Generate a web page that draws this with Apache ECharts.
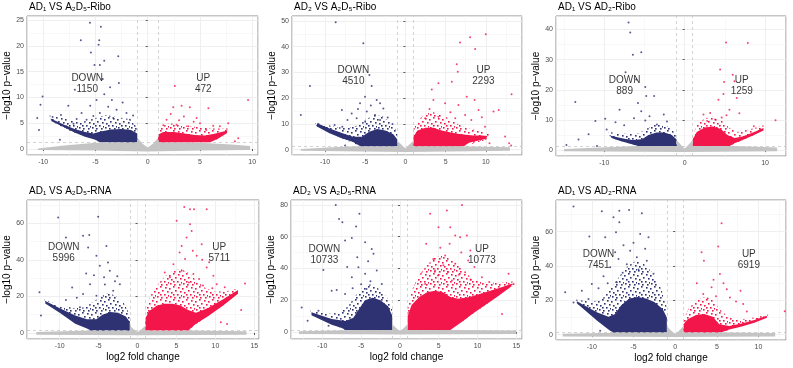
<!DOCTYPE html>
<html>
<head>
<meta charset="utf-8">
<script src="https://cdn.jsdelivr.net/npm/echarts@6/dist/echarts.min.js"></script>
<style>
html, body { margin: 0; padding: 0; background: #fff; }
#volcano { width: 793px; height: 368px; }
</style>
</head>
<body>
<div id="volcano"></div>
<script>
// panel titles and DEG counts
var panelTitles = ['AD₁ VS A₂D₅-Ribo', 'AD₂ VS A₂D₅-Ribo', 'AD₁ VS AD₂-Ribo',
                   'AD₁ VS A₂D₅-RNA', 'AD₂ VS A₂D₅-RNA', 'AD₁ VS AD₂-RNA'];
var downCounts = [1150, 4510, 889, 5996, 10733, 7451];
var upCounts = [472, 2293, 1259, 5711, 10773, 6919];
var fcCut = 1;
var pCut = 1.301;

// outlines of the point masses (log2FC, -log10 p): ns band, solid core, sparser fringe
var nsCore1 = [[-10.5,0.1],[-8,0.7],[-5,1.2],[-2,1.3],[-1,2.2],[-0.5,1.0],[0,0.3],[0.5,1.0],[1,2.2],[2,1.3],[5,1.2],[8,0.9],[9.8,0.6],[9.8,-0.2],[5,-0.3],[0,-0.5],[-5,-0.3],[-10.5,-0.2]];
var downCore1 = [[-1,1.3],[-1,3.0],[-1.6,3.7],[-2.5,3.9],[-3.5,3.8],[-4.5,3.4],[-5.2,3.0],[-6,3.3],[-7,3.9],[-8,4.7],[-9.3,5.9],[-9.2,5.4],[-8,4.2],[-7,3.2],[-6,2.4],[-5,1.8],[-4.6,1.3]];
var downFringe1 = [[-1,1.3],[-1,4.2],[-1.8,5.8],[-3,6.2],[-4,6.6],[-5,6.0],[-6,5.4],[-7,5.4],[-8.2,6.0],[-9.4,6.5],[-9.3,5.5],[-8,4.1],[-7,3.1],[-6,2.3],[-5,1.7],[-4.6,1.3]];
var upCore1 = [[1,1.3],[1,2.8],[1.5,3.3],[2.5,3.3],[3.5,3.0],[4.5,2.7],[5.5,2.6],[6.5,3.0],[7.6,3.6],[7.6,3.1],[6.8,2.1],[6,1.3]];
var upFringe1 = [[1,1.3],[1,4],[2,5],[3,4.8],[4,4.4],[5,4.2],[6,4.0],[7,4.0],[7.8,4.0],[7.7,3.0],[6.8,2.0],[6,1.3]];

var nsCore2 = [[-13,0.3],[-9,1],[-6,1.3],[-1,1.3],[-1,3.5],[-0.5,2],[0,0.5],[0.5,2],[1,3.5],[1,1.3],[6,1.3],[10,1.2],[13,1],[13,-0.4],[0,-0.9],[-13,-0.4]];
var downCore2 = [[-1,1.3],[-1,4],[-1.5,6],[-2.5,7.5],[-3.5,8],[-4.5,7],[-5.4,5],[-6.5,5],[-8,6.6],[-9.5,8.3],[-11,10.3],[-11,9],[-9.5,6.5],[-8,4.5],[-6.5,3],[-5.6,1.3]];
var downFringe2 = [[-1,1.3],[-1,7],[-1.8,10.5],[-2.8,13],[-3.8,13.5],[-4.8,12],[-5.8,9.5],[-7,8.5],[-8.5,8.7],[-10,9.8],[-11.3,10.8],[-11,9],[-8,4.5],[-5.6,1.3]];
var upCore2 = [[1,1.3],[1,5],[1.5,7.5],[2.5,8.5],[3.5,8.5],[4.5,7.5],[5.5,6.8],[6.5,6.2],[7.5,5.8],[8.5,5.5],[9.5,5.5],[10.2,5.3],[10,4.2],[9,3.5],[8,2.8],[7.2,1.3]];
var upFringe2 = [[1,1.3],[1,8],[1.6,11.5],[2.5,14],[3.5,14.5],[4.5,13.5],[5.5,12],[6.5,10],[7.5,8.5],[8.5,7.8],[9.5,7.2],[10.5,6.5],[10.2,4],[7.2,1.3]];

var nsCore3 = [[-15,0.3],[-9,1],[-6,1.3],[-1,1.3],[-1,3.2],[-0.5,1.8],[0,0.4],[0.5,1.8],[1,3.2],[1,1.3],[6,1.3],[9,1.1],[11.5,0.8],[11.5,-0.4],[0,-0.7],[-15,-0.4]];
var downCore3 = [[-1,1.3],[-1,3.5],[-1.6,5],[-2.5,5.8],[-3.5,5.8],[-4.5,5],[-5.3,3.6],[-6.5,3.3],[-7.5,3.7],[-8.5,4.3],[-9.2,4.7],[-9.1,4.0],[-8,3.0],[-7,2.2],[-6,1.5],[-5.7,1.3]];
var downFringe3 = [[-1,1.3],[-1,5],[-1.8,7.5],[-2.8,8.5],[-3.8,8.3],[-4.8,7],[-5.8,5.5],[-7,5.3],[-8.3,5.6],[-9.5,6],[-9.2,4],[-5.7,1.3]];
var upCore3 = [[1,1.3],[1,3.5],[1.5,6],[2.5,7.5],[3.5,7.8],[4.5,7],[5.3,5],[6.2,4],[7.2,4.5],[8.5,5.8],[9.8,7.3],[9.8,6.5],[8.5,4.8],[7.2,3.3],[6.2,2.2],[5.6,1.3]];
var upFringe3 = [[1,1.3],[1,5],[1.6,8.5],[2.5,10.5],[3.5,11],[4.5,10],[5.5,7.5],[6.5,6],[8,6.8],[9.9,8.2],[9.8,6.5],[5.6,1.3]];

var nsCore4 = [[-13,0.5],[-6,1.3],[-1,1.3],[-1,4],[-0.5,2],[0,0.5],[0.5,2],[1,4],[1,1.3],[7,1.3],[14,1],[14,-1.0],[0,-1.3],[-13,-1.0]];
var downCore4 = [[-1,1.3],[-1,6],[-1.5,9],[-2.5,11],[-3.5,11.5],[-4.5,10],[-5.3,7.5],[-6.5,7.5],[-8,9.5],[-10,13.5],[-11.9,17.6],[-11.8,16],[-10,11],[-8,5],[-6.5,2.5],[-6,1.3]];
var downFringe4 = [[-1,1.3],[-1,10],[-1.7,16],[-2.7,20],[-3.7,22],[-4.7,20],[-5.7,17],[-6.7,14],[-8,13.5],[-10,15],[-12,18.5],[-11.8,16],[-6,1.3]];
var upCore4 = [[1,1.3],[1,8],[1.5,12],[2.5,15],[3.5,16],[4.5,16],[5.5,15],[6.5,12.5],[7.5,11],[9,13.5],[11,18.5],[12.9,23.5],[12.9,21.5],[11,15],[9,9],[7.5,5],[6.8,2.5],[6.5,1.3]];
var upFringe4 = [[1,1.3],[1,12],[1.6,20],[2.5,26],[3.5,31],[4.5,34],[5.5,35],[6.5,33],[7.5,29],[8.5,25],[10,22.5],[11.5,23],[13,24.5],[12.9,21.5],[6.5,1.3]];

var nsCore5 = [[-13,0.5],[-6,1.3],[-1,1.3],[-1,5],[-0.5,2.5],[0,0.5],[0.5,2.5],[1,5],[1,1.3],[7,1.3],[15,1],[15,-1.2],[0,-1.6],[-13,-1.2]];
var downCore5 = [[-1,1.3],[-1,10],[-1.5,16],[-2.5,20],[-3.5,21.5],[-4.5,20],[-5.2,15],[-6,9],[-7,7],[-8.8,8.2],[-11.4,12.4],[-11.4,10.6],[-8.8,4.5],[-7.5,2.5],[-7,1.3]];
var downFringe5 = [[-1,1.3],[-1,14],[-1.7,22],[-2.7,27],[-3.7,30],[-4.7,29],[-5.7,23],[-6.7,16],[-8,12],[-9.5,11.5],[-11.6,13.5],[-11.4,10.6],[-7,1.3]];
var upCore5 = [[1,1.3],[1,10],[1.5,17],[2.5,22],[3.5,25],[4.5,26],[5.5,25],[6.5,22],[7.5,21],[9,22],[11,25],[13,28],[14.5,30.5],[14.3,28.5],[12.5,22],[11,17],[9.5,12],[8,6.5],[7,3],[6.5,1.3]];
var upFringe5 = [[1,1.3],[1,16],[1.6,27],[2.5,36],[3.5,42],[4.5,47],[5.5,48],[6.5,46],[7.5,42],[8.5,37],[9.5,33],[11,31],[13,31],[14.8,32],[14.3,28.5],[6.5,1.3]];

var nsCore6 = [[-13.5,0.5],[-6,1.3],[-1,1.3],[-1,5],[-0.5,2.5],[0,0.5],[0.5,2.5],[1,5],[1,1.3],[7,1.3],[12,1],[12,-1.1],[0,-1.4],[-13.5,-1.1]];
var downCore6 = [[-1,1.3],[-1,10],[-1.5,15],[-2.5,19],[-3.5,21],[-4.5,22],[-5.5,21],[-6.5,17],[-7.2,12],[-8,10.5],[-9.4,13],[-11.8,19.4],[-11.8,18.3],[-9.4,8.2],[-8.4,4.5],[-7.8,2.3],[-7.4,1.3]];
var downFringe6 = [[-1,1.3],[-1,16],[-1.7,27],[-2.7,36],[-3.7,41],[-4.7,43],[-5.7,40],[-6.7,34],[-7.7,27],[-8.7,21],[-10,19],[-12,20.5],[-11.8,18.3],[-7.4,1.3]];
var upCore6 = [[1,1.3],[1,6],[1.5,9],[2.5,11.5],[3.5,12],[4.5,10.5],[5.3,6],[6.5,5],[8,6.5],[9.5,8.5],[11,11],[11,9.8],[9.5,7],[8,4.8],[6.5,3],[5.5,1.3]];
var upFringe6 = [[1,1.3],[1,9],[1.6,15],[2.5,20],[3.5,22],[4.5,20],[5.5,14],[6.5,10],[8,9],[9.5,10],[11.2,11.8],[11,9.8],[5.5,1.3]];

// scattered genes outside the dense masses
var downPts1 = [[-5.53,24.5],[-4.48,23.7],[-6.4,21.1],[-4.64,21.1],[-4.7,20.2],[-5.44,18.7],[-2.82,18.0],[-5.09,16.3],[-4.58,16.3],[-4.16,17.1],[-2.76,12.8],[-6.97,11.5],[-10.06,10.2],[-10.26,8.6],[-7.6,8.4],[-10.57,6.0],[-9.1,6.2],[-10.4,3.7],[-4.16,10.6],[-3.43,9.5],[-4.9,9.5],[-5.5,8.4],[-3.78,8.2],[-2.98,7.6],[-2.03,7.0],[-6.33,7.0],[-4.58,7.0],[-5.85,5.7],[-3.3,6.0],[-1.7,5.7],[-7.1,4.9],[-7.77,4.4],[-8.4,1.8],[-3.6,12.0],[-4.3,13.6],[-2.4,9.0],[-1.4,6.5],[-5.2,6.4],[-6.8,5.8],[-8.3,6.6]];
var upPts1 = [[2.6,12.2],[2.44,8.1],[3.24,8.4],[4.03,8.1],[3.46,6.3],[5.8,7.9],[9.6,9.5],[1.8,5.7],[4.67,6.0],[5.0,5.0],[7.7,5.0],[6.9,4.4],[8.66,2.1],[8.34,1.5],[2.76,4.7],[3.88,4.4],[6.27,4.5],[5.6,3.7],[2.2,6.8],[3.0,5.6],[1.5,4.6],[4.4,5.3]];

var downPts2 = [[-8.67,49.5],[-5.23,41.3],[-11.87,24.7],[-4.48,29.0],[-13,13.5],[-4.19,24.7],[-5.02,20.6],[-3.57,19.3],[-3.15,18],[-5.64,18],[-7.9,15.4],[-6.68,14.1],[-10.8,10],[-9.88,8.3],[-7.84,8.9],[-7.5,1.6],[-4.8,14.8],[-3.78,13.5],[-2.74,16],[-6.06,12.2],[-5,10.9],[-3.15,11.5],[-2.2,12.5],[-1.6,10],[-4.3,17.2],[-5.9,15.8],[-7.2,11.5],[-8.8,9.6]];
var upPts2 = [[10,44.8],[6.8,41.6],[8.05,43.7],[8.67,39.1],[6.39,33.2],[6.51,30.3],[5.77,26.4],[4.11,25.8],[13.2,21.5],[11.6,15.4],[10.95,14.8],[8.6,19.3],[7.63,20.6],[3.28,23.4],[9.1,15.4],[12.4,5.1],[12.9,2.5],[13.15,1.6],[10.46,2.5],[9.9,8.9],[3.49,19.3],[4.94,18],[6.6,17.4],[7.43,13.5],[4.1,12.8],[2.45,12.2],[5.6,14.5],[3.0,15.8],[8.2,11.5],[6.2,12.2],[9.5,12.6]];

var downPts3 = [[-6.98,42.3],[-6.77,39],[-6.44,31.6],[-5.4,32.5],[-7.35,25.8],[-6.02,23.4],[-4.9,20.9],[-13.6,15.9],[-8.1,13.4],[-5.8,15.6],[-4.78,17.9],[-3.8,17.9],[-5.4,12.9],[-4.37,11.2],[-9.88,10.4],[-11.1,9.6],[-9.7,6.8],[-11.95,5.2],[-14.7,1.65],[-13.2,3.5],[-10.9,1.3],[-7.52,8.2],[-3.46,8.5],[-6.3,10.5],[-2.6,11.8],[-8.6,9.2],[-4.9,9.8],[-2.2,9.5]];
var upPts3 = [[5.15,35.7],[7.85,35.5],[4.41,26.7],[5.98,25],[6.19,22.8],[4.82,18.6],[4.2,16.7],[6.48,17.3],[5.57,13.4],[11.3,9.9],[3.17,12.3],[2.34,11.8],[3.79,10.1],[8.6,7.9],[9.4,6.8],[4.9,22.6],[5.2,11.5],[6.8,12.2],[2.8,9.6],[4.6,10.8]];

var downPts4 = [[-10.2,63.1],[-5.06,63.5],[-9.2,52.2],[-6.2,53.6],[-7,53.1],[-4,47.6],[-6.35,46.7],[-5.28,42.2],[-4.85,36.7],[-3.56,34],[-4.3,30.4],[-6.1,26.7],[-8.4,24.9],[-12.6,22.2],[-7,21.3],[-5.28,20.4],[-3.13,23.1],[-12.4,9.5],[-2.27,26.7],[-7.4,14],[-9.57,11.3],[-3.8,38.5],[-2.6,31],[-5.6,31.5],[-4.2,26.5],[-6.6,32.5],[-2.9,28.3],[-7.8,19.2],[-9.2,18]];
var upPts4 = [[6,68.9],[6.74,67.6],[7.25,67.6],[8.88,67.6],[5.02,61.3],[6.74,59.5],[6.95,55.8],[6.3,52.2],[8.24,48.5],[5.67,47.6],[7.6,42.2],[13.8,27.1],[13.3,12.5],[11.5,4.9],[10.7,5.8],[9.74,31.3],[8.88,35.8],[4.6,37.6],[5.67,34],[7.17,32.2],[4.16,30.4],[10.17,26.7],[7.1,45],[6.1,40.5],[8.3,40],[9.2,38.6],[5.4,44],[3.5,33],[7.9,29.5],[9.6,24.5],[11.2,25],[6.6,27.6],[8.4,26]];

var downPts5 = [[-8.27,80],[-7.85,71.2],[-7.42,69.1],[-5.22,74.4],[-5.65,66.4],[-6.2,59.2],[-4.49,56.5],[-7.07,57.6],[-3.63,52.3],[-3.41,49.2],[-9.87,39.1],[-5.35,40.8],[-4.49,36.6],[-8.8,26],[-8.15,26.5],[-7.07,24],[-12.66,15.5],[-10.5,13.4],[-11.9,7.1],[-9.2,4],[-6.2,34.5],[-2.99,38.7],[-2.34,30.3],[-5.5,47],[-4.1,44.5],[-6.8,41],[-3.8,32],[-5,30],[-6.1,27.5],[-4.3,27]];
var upPts5 = [[8,80],[6.05,76.5],[3.89,74.4],[4.97,66],[6.48,66],[7.12,60.7],[7.76,59.7],[8.62,60.7],[9.07,51.3],[3.38,55.5],[5.83,48.1],[7.12,42.9],[10.56,34.5],[14,36.6],[12.3,26],[14.65,30.3],[13.15,11.3],[8.4,37.6],[4.54,38.7],[6.7,32.4],[3.25,30.3],[5.2,53],[4.3,46],[6.4,55.6],[7.9,50],[8.8,45],[9.6,41],[5.6,42],[4.9,35.5],[7.6,36],[9.1,33],[11.5,31.5],[6.2,37.8]];

var downPts6 = [[-12.2,74.6],[-8.8,71.8],[-6.7,72.2],[-5.53,72.6],[-4,70.7],[-7.4,68.3],[-6.7,65.4],[-10.3,57.1],[-8.4,56.7],[-7.1,59.6],[-4.2,58.6],[-3.2,56.7],[-5.4,48.9],[-10,29.5],[-13.2,24.7],[-12.2,18.8],[-11.2,25.6],[-10.4,20.8],[-9,2.3],[-7.8,39.2],[-7,30.5],[-6.2,52],[-5,53.5],[-3.6,50],[-4.6,45],[-6.8,44],[-5.8,41],[-3.4,43],[-7.2,48],[-8.6,34],[-9.2,27],[-6.3,36],[-4.4,38],[-2.6,35.5],[-8.1,30]];
var upPts6 = [[5.57,64.9],[5.17,51.3],[3.17,48],[3.45,43.1],[5.37,35.3],[7.84,25.6],[13.15,13.6],[10.64,10.1],[8.16,17.9],[6.57,21.7],[4.37,27.6],[3.37,23.7],[9.9,9.1],[4.6,32],[5.8,30],[2.6,30],[6.2,26.4],[7.3,19.3],[3.9,21],[4.9,22.4],[8.6,13.5]];

var nsCores = [nsCore1, nsCore2, nsCore3, nsCore4, nsCore5, nsCore6];
var downCores = [downCore1, downCore2, downCore3, downCore4, downCore5, downCore6];
var downFringes = [downFringe1, downFringe2, downFringe3, downFringe4, downFringe5, downFringe6];
var upCores = [upCore1, upCore2, upCore3, upCore4, upCore5, upCore6];
var upFringes = [upFringe1, upFringe2, upFringe3, upFringe4, upFringe5, upFringe6];
var downPts = [downPts1, downPts2, downPts3, downPts4, downPts5, downPts6];
var upPts = [upPts1, upPts2, upPts3, upPts4, upPts5, upPts6];

// layout: grid boxes, axis extents, where the DOWN/UP counts sit
var boxes = [
    {left: 27, top: 16, width: 231, height: 139},
    {left: 292, top: 16, width: 230, height: 139},
    {left: 556, top: 16, width: 230, height: 140},
    {left: 27, top: 200, width: 232, height: 139},
    {left: 291, top: 200, width: 231, height: 139},
    {left: 556, top: 200, width: 230, height: 140}
];
var xExt = [[-11.55, 10.55], [-14.1, 14.5], [-16, 12.6], [-14.2, 15.6], [-14.04, 15.73], [-14.3, 13.3]];
var yExt = [[-1.16, 25.8], [-2.05, 51.9], [-2, 44.5], [-3.3, 72.7], [-4.4, 83.1], [-3.1, 78.4]];
var xSplit = [5, 5, 3, 5, 5, 5];
var ySplit = [5, 5, 5, 4, 4, 4];
var downLabelAt = [[-5.79, 12.6], [-6.47, 28.6], [-7.47, 21.4], [-9.48, 44], [-9.74, 48.7], [-9.2, 43.5]];
var upLabelAt = [[5.31, 12.6], [9.7, 28.6], [7.1, 21.4], [10.5, 44], [10.57, 48.7], [8.84, 43.5]];

var colNs = '#c4c4c4', colDown = '#2e3172', colUp = '#f2164a';
var font = 'Liberation Sans, Arial, sans-serif';

// stipple texture for the sparse fringe of each cloud (13px tile)
var stippleDots = [[0,2],[4,0],[9,1],[11,5],[2,6],[6,4],[8,8],[1,10],[5,11],[10,11],[4,8],[12,9]];
function stipple(color) {
    var c = document.createElement('canvas');
    c.width = 13; c.height = 13;
    var g = c.getContext('2d');
    g.fillStyle = color;
    stippleDots.forEach(function (d) { g.fillRect(d[0], d[1], 1.6, 1.6); });
    return {image: c, repeat: 'repeat'};
}

var mychart = echarts.init(document.getElementById('volcano'));

function cloud(i, pts, fill) {
    return {
        type: 'custom', xAxisIndex: i, yAxisIndex: i, silent: true, clip: true,
        data: pts,
        renderItem: function (params, api) {
            if (params.dataIndex !== 0) return;
            return {
                type: 'polygon',
                shape: {points: pts.map(function (p) { return api.coord(p); })},
                style: {fill: fill}
            };
        }
    };
}

var grid = [], xAxis = [], yAxis = [], title = [], series = [];
for (var i = 0; i < 6; i++) {
    var b = boxes[i];
    grid.push({left: b.left, top: b.top, width: b.width, height: b.height,
        show: true, borderColor: '#8c8c8c', borderWidth: 1, backgroundColor: '#fff'});
    title.push({text: panelTitles[i], left: b.left + 2, top: b.top - 14, padding: 0,
        textStyle: {fontFamily: font, fontSize: 10, fontWeight: 'normal', color: '#000'}});
    xAxis.push({
        type: 'value', gridIndex: i, min: xExt[i][0], max: xExt[i][1], splitNumber: xSplit[i],
        name: i >= 3 ? 'log2 fold change' : '', nameLocation: 'middle', nameGap: 13,
        nameTextStyle: {fontFamily: font, fontSize: 10, color: '#000'},
        axisLine: {show: false},
        axisTick: {show: true, length: 2, lineStyle: {color: '#555'}},
        axisLabel: {fontFamily: font, fontSize: 7, color: '#4d4d4d', margin: 4, showMinLabel: false, showMaxLabel: false},
        splitLine: {show: true, lineStyle: {color: '#ebebeb', width: 0.8}},
        minorTick: {show: false, splitNumber: 2},
        minorSplitLine: {show: true, lineStyle: {color: '#f4f4f4', width: 0.6}}
    });
    yAxis.push({
        type: 'value', gridIndex: i, min: yExt[i][0], max: yExt[i][1], splitNumber: ySplit[i],
        name: '−log10 p−value', nameLocation: 'middle', nameGap: 12, nameRotate: 90,
        nameTextStyle: {fontFamily: font, fontSize: 10, color: '#000'},
        axisLine: {show: false},
        axisTick: {show: true, length: 2, lineStyle: {color: '#555'}},
        axisLabel: {fontFamily: font, fontSize: 7, color: '#4d4d4d', margin: 3, showMinLabel: false, showMaxLabel: false},
        splitLine: {show: true, lineStyle: {color: '#ebebeb', width: 0.8}},
        minorTick: {show: false, splitNumber: 2},
        minorSplitLine: {show: true, lineStyle: {color: '#f4f4f4', width: 0.6}}
    });

    series.push(cloud(i, nsCores[i], colNs));
    series.push(cloud(i, downFringes[i], stipple(colDown)));
    series.push(cloud(i, upFringes[i], stipple(colUp)));
    series.push(cloud(i, downCores[i], colDown));
    series.push(cloud(i, upCores[i], colUp));
    series.push({
        type: 'scatter', xAxisIndex: i, yAxisIndex: i, silent: true,
        symbolSize: 2, itemStyle: {color: colDown}, data: downPts[i],
        markLine: {
            silent: true, symbol: 'none', label: {show: false},
            lineStyle: {color: '#c8c8c8', type: [3, 3], width: 0.8},
            data: [{xAxis: -fcCut}, {xAxis: fcCut}, {yAxis: pCut}]
        }
    });
    series.push({
        type: 'scatter', xAxisIndex: i, yAxisIndex: i, silent: true,
        symbolSize: 2, itemStyle: {color: colUp}, data: upPts[i]
    });
    series.push({
        type: 'scatter', xAxisIndex: i, yAxisIndex: i, silent: true, symbolSize: 0,
        data: [
            downLabelAt[i].concat(['DOWN\n' + downCounts[i]]),
            upLabelAt[i].concat(['UP\n' + upCounts[i]])
        ],
        label: {
            show: true, position: 'inside', fontFamily: font, fontSize: 10, lineHeight: 11, color: '#000',
            formatter: function (p) { return p.value[2]; }
        }
    });
}

option = {
    animation: false,
    backgroundColor: '#fff',
    title: title,
    grid: grid,
    xAxis: xAxis,
    yAxis: yAxis,
    series: series
};

mychart.setOption(option);
</script>
</body>
</html>
